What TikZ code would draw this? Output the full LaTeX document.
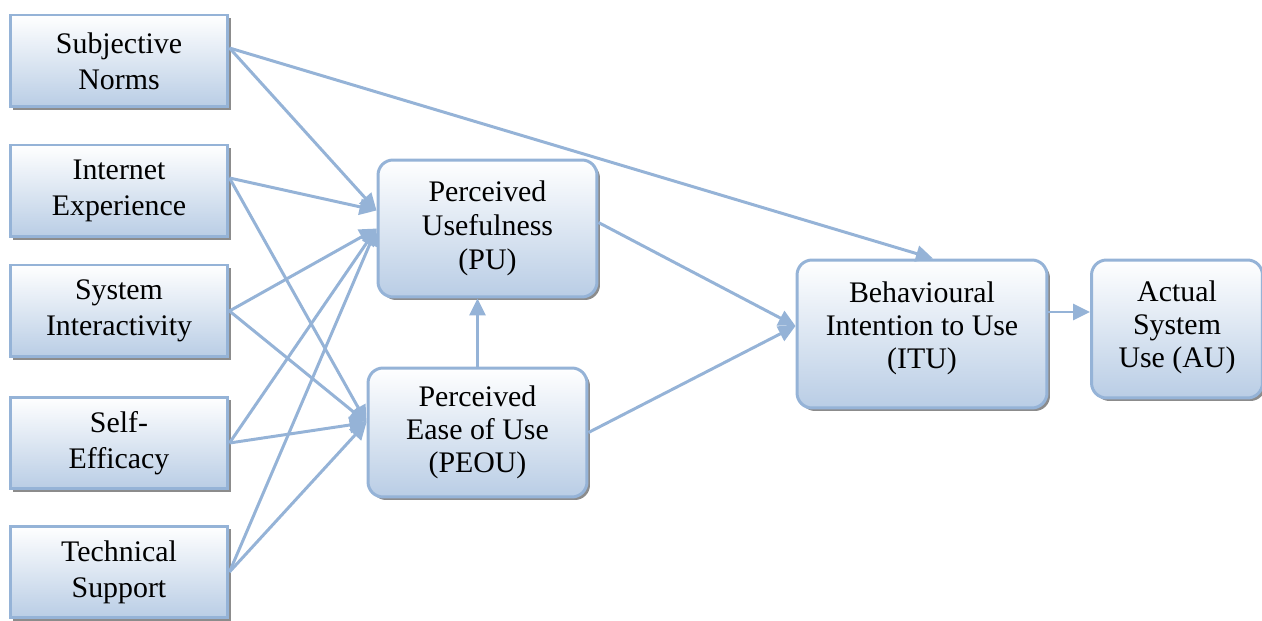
\documentclass[tikz,border=0pt]{standalone}
\usepackage{fontspec}
\setmainfont{Liberation Serif}
\usetikzlibrary{arrows.meta,calc,shadows}
\definecolor{boxline}{HTML}{95B3D7}
\definecolor{boxfill}{HTML}{B9CDE5}
\definecolor{boxshade}{HTML}{8C8C8C}
\begin{document}
\begin{tikzpicture}[x=0.02cm,y=-0.02cm,
        factor/.style={draw=boxline,line width=1.7pt,top color=white,bottom color=boxfill,
            general shadow={shadow xshift=0.06cm,shadow yshift=-0.06cm,fill=boxshade},
            align=center,inner sep=2pt,font=\fontsize{17}{20.3}\selectfont},
        extbox/.style={factor,minimum width=4.36cm,minimum height=1.84cm},
        corebox/.style={factor,rounded corners=0.3cm},
        outbox/.style={corebox,font=\fontsize{17}{18.8}\selectfont},
        link/.style={draw=boxline,line width=1.7pt,-{Triangle[length=0.34cm,width=0.32cm]}}]
        \useasboundingbox (0,0) rectangle (1262,621);
        \node[extbox] (sn) at (119,61) {Subjective\\Norms};
        \node[extbox] (ie) at (119,191) {Internet\\Experience};
        \node[extbox] (si) at (119,311) {System\\Interactivity};
        \node[extbox] (se) at (119,443) {Self-\\Efficacy};
        \node[extbox] (ts) at (119,572) {Technical\\Support};
        \node[corebox,minimum width=4.38cm,minimum height=2.74cm,font=\fontsize{17}{19.5}\selectfont] (pu) at (487.5,228.5) {Perceived\\Usefulness\\(PU)};
        \node[corebox,minimum width=4.38cm,minimum height=2.58cm,font=\fontsize{17}{18.8}\selectfont] (peou) at (477.5,432.5) {Perceived\\Ease of Use\\(PEOU)};
        \node[outbox,minimum width=5cm,minimum height=2.96cm,text depth=10.5pt] (itu) at (922,334) {Behavioural\\Intention to Use\\(ITU)};
        \node[outbox,minimum width=3.42cm,minimum height=2.76cm,text depth=5pt] (au) at (1177,329) {Actual\\System\\Use (AU)};
        \coordinate (snout) at ($(sn.east)+(0,-13)$);
        \coordinate (ieout) at ($(ie.east)+(0,-13)$);
        \coordinate (puhi) at ($(pu.west)+(0,-18)$);
        \coordinate (peouin) at ($(peou.west)+(0,-10)$);
        \coordinate (ituin) at ($(itu.west)+(0,-8)$);
        \coordinate (itout) at ($(itu.east)+(0,-22)$);
        \draw[link] (snout) -- ($(itu.north)+(11,0)$);
        \draw[link] (snout) -- (puhi);
        \draw[link] (ieout) -- (puhi);
        \draw[link] (ieout) -- (peouin);
        \foreach \src in {si,se,ts} {
            \draw[link] (\src.east) -- (pu.west);
            \draw[link] (\src.east) -- (peouin);
        }
        \draw[link] ($(pu.east)+(0,-6)$) -- (ituin);
        \draw[link] (peou.east) -- (ituin);
        \draw[link] (peou.north) -- (peou.north |- pu.south);
        \draw[link] (itout) -- (itout -| au.west);
    \end{tikzpicture}
\end{document}
